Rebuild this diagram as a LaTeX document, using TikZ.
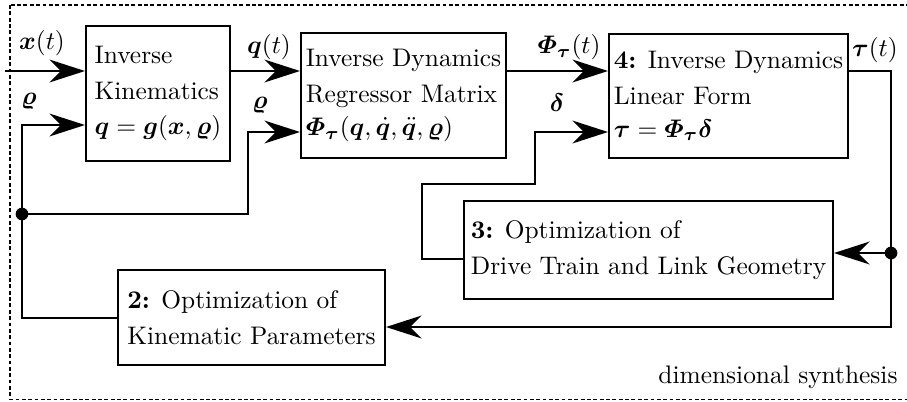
\documentclass[tikz,border=0pt]{standalone}
\usepackage{amsmath,bm}
\usetikzlibrary{arrows.meta}
\begin{document}
\begin{tikzpicture}[x=0.3937pt,y=-0.3937pt,
  box/.style={draw, line width=0.8pt, align=left, anchor=north west, inner sep=0pt},
  conn/.style={line width=1pt},
  arr/.style={conn, -{Stealth[length=14pt,width=9pt,inset=4.5pt]}},
  lbl/.style={inner sep=0pt},
  jdot/.style={circle, fill, inner sep=0pt, minimum size=5pt}]
\useasboundingbox (0,0) rectangle (907,401);
\draw[dash pattern=on 1.5pt off 1pt, line width=0.4pt] (10,5) rectangle (910,399.5);

\node[box, minimum width=144*0.3937pt, minimum height=135*0.3937pt] (ik) at (85,25)
  {Inverse\\[2pt]Kinematics\\[2pt]$\bm q=\bm g(\bm x,\bm\varrho)$};
\node[box, minimum width=205*0.3937pt, minimum height=125*0.3937pt] (reg) at (300,32)
  {Inverse Dynamics\\[2pt]Regressor Matrix\\[1pt]$\bm\varPhi_{\bm\tau}(\bm q,\dot{\bm q},\ddot{\bm q},\bm\varrho)$};
\node[box, minimum width=239*0.3937pt, minimum height=124*0.3937pt] (lin) at (608,33)
  {\textbf{4:} Inverse Dynamics\\[2pt]Linear Form\\[1pt]$\bm\tau=\bm\varPhi_{\bm\tau}\bm\delta$};
\node[box, minimum width=369*0.3937pt, minimum height=98*0.3937pt] (dt) at (463,200)
  {\textbf{3:} Optimization of\\[2pt]Drive Train and Link Geometry};
\node[box, minimum width=267*0.3937pt, minimum height=95*0.3937pt] (kp) at (117,269)
  {\textbf{2:} Optimization of\\[2pt]Kinematic Parameters};

\node[jdot] (j1) at (22,214) {};
\node[jdot] (j2) at (891,253) {};

\coordinate (xin) at (5,71);
\draw[arr] (xin) -- (xin -| ik.west);
\coordinate (r1) at (22,125);
\draw[arr] (j1.center) -- (r1) -- (r1 -| ik.west);
\coordinate (r2a) at (248,214);
\coordinate (r2b) at (248,132);
\draw[arr] (j1.center) -- (r2a) -- (r2b) -- (r2b -| reg.west);
\draw[arr] (ik.east |- xin) -- (reg.west |- xin);
\draw[arr] (reg.east |- xin) -- (lin.west |- xin);

\coordinate (d1) at (422,259);
\coordinate (d2) at (422,184);
\coordinate (d3) at (535,184);
\coordinate (d4) at (535,132);
\draw[arr] (d1 -| dt.west) -- (d1) -- (d2) -- (d3) -- (d4) -- (d4 -| lin.west);

\coordinate (t1) at (891,71);
\draw[conn] (lin.east |- t1) -- (t1) -- (j2.center);
\draw[arr] (j2.center) -- (j2 -| dt.east);
\coordinate (t2) at (891,327);
\draw[arr] (j2.center) -- (t2) -- (t2 -| kp.east);
\coordinate (k1) at (22,318);
\draw[conn] (k1 -| kp.west) -- (k1) -- (j1.center);

\node[lbl] (lx) at (42,43) {$\bm x(t)$};
\node[lbl] (lr1) at (29,101) {$\bm\varrho$};
\node[lbl] (lq) at (269,47) {$\bm q(t)$};
\node[lbl] (lr2) at (260,105) {$\bm\varrho$};
\node[lbl] (lphi) at (569,47) {$\bm\varPhi_{\bm\tau}(t)$};
\node[lbl] (ld) at (557,103) {$\bm\delta$};
\node[lbl] (lt) at (875,50) {$\bm\tau(t)$};
\node[lbl, anchor=east] (ds) at (898,377) {dimensional synthesis};
\end{tikzpicture}
\end{document}
